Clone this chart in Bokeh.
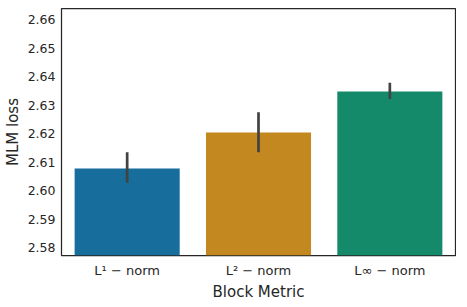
from bokeh.plotting import figure
from bokeh.models import Range1d, FixedTicker, NumeralTickFormatter, ColumnDataSource
from bokeh.embed import file_html
from bokeh.resources import INLINE

# Data
categories = ["L1", "L2", "Linf"]
tick_labels = ["L¹ − norm", "L² − norm", "L∞ − norm"]
mean_loss = [2.6077, 2.6204, 2.6348]
ci_low = [2.6027, 2.6134, 2.6321]
ci_high = [2.6134, 2.6275, 2.6378]
colors = ["#176d9c", "#c38820", "#158a6a"]
y_ticks = [2.58, 2.59, 2.60, 2.61, 2.62, 2.63, 2.64, 2.65, 2.66]

xs = list(range(len(categories)))
src = ColumnDataSource(dict(x=xs, top=mean_loss, lo=ci_low, hi=ci_high, color=colors))

p = figure(frame_width=394, frame_height=247, output_backend="svg", toolbar_location=None,
           x_range=Range1d(-0.5, 2.5), y_range=Range1d(2.5772, 2.6639),
           min_border_left=57, min_border_right=1, min_border_top=8, min_border_bottom=40)

p.vbar(x="x", width=0.8, top="top", bottom=0, fill_color="color", line_color=None, source=src)
p.segment(x0="x", y0="lo", x1="x", y1="hi", line_color="#424242", line_width=2.7, source=src)

p.xgrid.visible = False
p.ygrid.visible = False
p.outline_line_color = "#262626"
p.outline_line_width = 1.25
p.background_fill_color = "white"
p.border_fill_color = "white"

p.xaxis.ticker = FixedTicker(ticks=xs)
p.xaxis.major_label_overrides = {i: t for i, t in zip(xs, tick_labels)}
p.yaxis.ticker = FixedTicker(ticks=y_ticks)
p.yaxis.formatter = NumeralTickFormatter(format="0.00")

for ax in (p.xaxis, p.yaxis):
    ax.axis_line_color = None
    ax.major_tick_line_color = None
    ax.minor_tick_line_color = None
    ax.major_tick_out = 0
    ax.major_tick_in = 0
    ax.major_label_text_font = "DejaVu Sans"
    ax.major_label_text_font_size = "12.5px"
    ax.major_label_text_color = "#262626"
    ax.axis_label_text_font = "DejaVu Sans"
    ax.axis_label_text_font_size = "15px"
    ax.axis_label_text_font_style = "normal"
    ax.axis_label_text_color = "#262626"

p.xaxis.major_label_text_font_size = "13px"
p.xaxis.major_label_standoff = 7
p.yaxis.major_label_standoff = 6
p.xaxis.axis_label = "Block Metric"
p.yaxis.axis_label = "MLM loss"
p.xaxis.axis_label_standoff = 2
p.yaxis.axis_label_standoff = 3

open("out.html", "w").write(file_html(p, INLINE))
